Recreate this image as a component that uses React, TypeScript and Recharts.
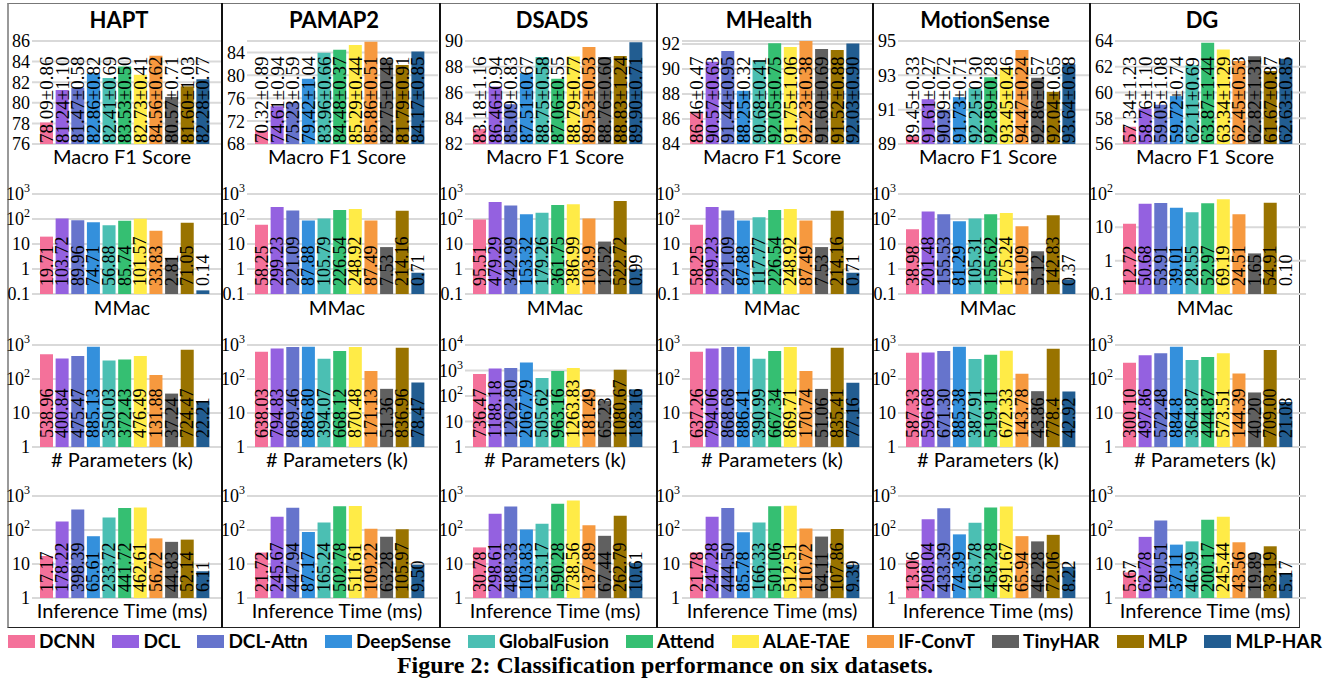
import React from 'react';
import { BarChart, Bar, XAxis, YAxis, CartesianGrid, Cell, LabelList } from 'recharts';

const models = ['DCNN', 'DCL', 'DCL-Attn', 'DeepSense', 'GlobalFusion', 'Attend', 'ALAE-TAE', 'IF-ConvT', 'TinyHAR', 'MLP', 'MLP-HAR'];
const colors = ['#F4719A', '#9461E0', '#6674CC', '#3490DC', '#4BBFB3', '#35BF72', '#FFEB47', '#F6993F', '#606060', '#997300', '#225D91'];
const datasets = ['HAPT', 'PAMAP2', 'DSADS', 'MHealth', 'MotionSense', 'DG'];
const metricNames = ['Macro F1 Score', 'MMac', '# Parameters (k)', 'Inference Time (ms)'];

// Macro F1 (mean, std)
const haptF1 = [78.09, 81.24, 81.47, 82.86, 82.41, 83.53, 82.73, 84.56, 80.57, 81.60, 82.28];
const haptF1Std = [0.86, 1.10, 0.58, 0.82, 0.69, 0.50, 0.41, 0.62, 0.71, 1.03, 0.77];
const pamapF1 = [70.32, 74.61, 75.23, 79.42, 83.96, 84.48, 85.29, 85.86, 82.75, 81.79, 84.17];
const pamapF1Std = [0.89, 0.94, 0.59, 1.04, 0.66, 0.37, 0.44, 0.51, 0.48, 0.91, 0.85];
const dsadsF1 = [83.18, 86.46, 85.09, 87.51, 88.75, 87.06, 88.79, 89.53, 88.76, 88.83, 89.90];
const dsadsF1Std = [1.16, 0.94, 0.83, 0.67, 0.58, 0.55, 0.77, 0.53, 0.60, 1.24, 0.71];
const mhealthF1 = [86.46, 90.57, 91.44, 88.25, 90.68, 92.05, 91.75, 92.23, 91.60, 91.52, 92.03];
const mhealthF1Std = [0.47, 0.63, 0.95, 0.32, 0.41, 0.75, 1.06, 0.38, 0.69, 0.88, 0.90];
const motionF1 = [89.45, 91.61, 90.99, 91.73, 92.25, 92.89, 93.45, 94.47, 92.86, 92.04, 93.64];
const motionF1Std = [0.33, 0.27, 0.72, 0.71, 0.30, 0.28, 0.46, 0.24, 0.57, 0.65, 0.68];
const dgF1 = [57.34, 58.76, 59.05, 59.72, 62.11, 63.87, 63.34, 62.45, 62.82, 61.67, 62.63];
const dgF1Std = [1.23, 1.10, 1.08, 0.74, 0.69, 1.44, 1.29, 0.53, 1.31, 0.87, 0.85];

// MMac
const haptMMac = ['19.71', '103.72', '89.96', '74.71', '56.88', '85.74', '101.57', '33.83', '2.81', '71.05', '0.14'];
const pamapMMac = ['58.25', '299.23', '221.09', '87.88', '105.79', '226.54', '248.92', '87.49', '7.53', '214.16', '0.71'];
const dsadsMMac = ['95.51', '479.29', '342.99', '153.32', '179.26', '361.75', '386.99', '103.9', '12.52', '522.72', '0.99'];
const mhealthMMac = ['58.25', '299.23', '221.09', '87.88', '117.77', '226.54', '248.92', '87.49', '7.53', '214.16', '0.71'];
const motionMMac = ['38.98', '201.48', '155.53', '81.29', '105.31', '155.62', '175.24', '51.09', '5.12', '142.83', '0.37'];
const dgMMac = ['12.72', '50.68', '53.91', '39.01', '28.55', '52.97', '69.19', '24.51', '1.65', '54.91', '0.10'];

// # Parameters (k)
const haptParams = ['538.96', '400.84', '475.47', '885.13', '350.03', '372.43', '476.49', '131.88', '37.24', '724.47', '22.21'];
const pamapParams = ['638.03', '794.83', '869.46', '886.80', '394.07', '668.12', '870.48', '171.13', '51.36', '836.96', '78.47'];
const dsadsParams = ['736.47', '1188.18', '1262.80', '2067.79', '505.62', '963.16', '1263.83', '181.49', '65.23', '1080.67', '183.16'];
const mhealthParams = ['637.26', '794.06', '868.68', '886.41', '390.99', '667.34', '869.71', '170.74', '51.06', '835.41', '77.16'];
const motionParams = ['587.33', '596.68', '671.30', '885.38', '387.91', '519.11', '672.33', '143.78', '43.86', '778.4', '42.92'];
const dgParams = ['300.10', '497.86', '572.48', '884.8', '364.87', '444.87', '573.51', '144.39', '40.20', '709.00', '21.08'];

// Inference time (ms)
const haptTime = ['17.17', '178.22', '398.39', '65.61', '233.72', '441.72', '462.61', '56.72', '44.83', '52.14', '6.11'];
const pamapTime = ['21.72', '245.67', '447.94', '87.17', '165.24', '502.78', '511.61', '109.22', '63.28', '105.97', '9.50'];
const dsadsTime = ['30.78', '298.61', '488.33', '103.83', '153.17', '590.28', '738.56', '137.89', '67.44', '262.79', '10.61'];
const mhealthTime = ['21.78', '247.28', '444.50', '85.78', '166.33', '501.06', '512.51', '110.72', '64.11', '107.86', '9.39'];
const motionTime = ['13.06', '208.04', '433.39', '74.39', '163.78', '458.28', '491.67', '65.94', '46.28', '72.06', '8.22'];
const dgTime = ['5.67', '62.78', '190.51', '37.11', '46.39', '200.17', '245.44', '43.56', '19.89', '33.19', '5.17'];

// y-axis ticks
const f1Ticks = [[76, 78, 80, 82, 84, 86], [68, 72, 76, 80, 84], [82, 84, 86, 88, 90], [84, 86, 88, 90, 92], [89, 91, 93, 95], [56, 58, 60, 62, 64]];
const f1Max = [86, 86, 90, 92, 95, 64];
const mmacTicks = [[0.1, 1, 10, 100, 1000], [0.1, 1, 10, 100, 1000], [0.1, 1, 10, 100, 1000], [0.1, 1, 10, 100, 1000], [0.1, 1, 10, 100, 1000], [0.1, 1, 10, 100]];
const paramTicks = [[1, 10, 100, 1000], [1, 10, 100, 1000], [1, 10, 100, 1000, 10000], [1, 10, 100, 1000], [1, 10, 100, 1000], [1, 10, 100, 1000]];
const timeTicks = [1, 10, 100, 1000];

const f1Mean = [haptF1, pamapF1, dsadsF1, mhealthF1, motionF1, dgF1];
const f1Std = [haptF1Std, pamapF1Std, dsadsF1Std, mhealthF1Std, motionF1Std, dgF1Std];
const mmac = [haptMMac, pamapMMac, dsadsMMac, mhealthMMac, motionMMac, dgMMac];
const params = [haptParams, pamapParams, dsadsParams, mhealthParams, motionParams, dgParams];
const times = [haptTime, pamapTime, dsadsTime, mhealthTime, motionTime, dgTime];

const panelLeft = [7, 222, 440, 657, 873, 1090];
const rowGeo = [
  { top: 41, bottom: 144, labelY: 156, offset: 1, font: 19 },
  { top: 194, bottom: 294, labelY: 307, offset: 8, font: 18 },
  { top: 345, bottom: 447, labelY: 459, offset: 9, font: 18 },
  { top: 496, bottom: 598, labelY: 610, offset: 6, font: 18 },
];
const W = 217;
const SANS = 'Lato, "Open Sans", sans-serif';
const SERIF = '"Liberation Serif", serif';

const LogTick = (props: any) => {
  const { x, y, payload } = props;
  const v = payload.value;
  const exp = Math.round(Math.log10(v));
  return (
    <text x={x} y={y} textAnchor="end" dominantBaseline="central" fontFamily={SERIF} fontSize={18} fill="#000">
      {exp < 2 ? String(v) : <>10<tspan dy={-6} fontSize={12}>{exp}</tspan></>}
    </text>
  );
};

const makeLabel = (offset: number, font: number) => (p: any) => {
  const vb = p.viewBox && p.viewBox.width != null ? p.viewBox : p;
  const cx = Number(vb.x) + Number(vb.width) / 2;
  const by = Number(vb.y) + Number(vb.height) - offset;
  return (
    <text x={cx} y={by} transform={`rotate(-90 ${cx} ${by})`} textAnchor="start" dominantBaseline="central"
      fontFamily={SERIF} fontSize={font} fill="#000">
      {p.value}
    </text>
  );
};

function Panel({ left, row, data, domain, ticks, log }: any) {
  const g = rowGeo[row];
  const pad = 12;
  const mb = 12;
  return (
    <div style={{ position: 'absolute', left, top: g.top - pad }}>
      <BarChart width={W} height={g.bottom - g.top + pad + mb} data={data}
        margin={{ top: pad, right: 1, bottom: mb, left: 0 }}>
        <CartesianGrid vertical={false} stroke="#d9d9d9" strokeWidth={2} />
        <XAxis xAxisId="bars" dataKey="name" hide padding={{ left: 7, right: 12 }} />
        <XAxis xAxisId="labels" dataKey="name" hide padding={{ left: 7, right: 12 }} />
        <YAxis width={25} scale={log ? 'log' : 'linear'} domain={domain} ticks={ticks} interval={0}
          axisLine={false} tickLine={false} tickSize={0} tickMargin={2}
          tick={log ? <LogTick /> : { fontFamily: SERIF, fontSize: 18, fill: '#000' }} />
        <Bar xAxisId="bars" dataKey="v" barSize={13} isAnimationActive={false}>
          {data.map((d: any, i: number) => <Cell key={i} fill={colors[i]} />)}
        </Bar>
        <Bar xAxisId="labels" dataKey="v" barSize={13} fill="transparent" minPointSize={2} isAnimationActive={false}>
          <LabelList dataKey="lbl" content={makeLabel(g.offset, g.font)} />
        </Bar>
      </BarChart>
    </div>
  );
}

export default function App() {
  const panels: any[] = [];
  datasets.forEach((ds, c) => {
    const L = panelLeft[c];
    const f1Data = models.map((m, i) => ({ name: m, v: f1Mean[c][i], lbl: `${f1Mean[c][i].toFixed(2)}±${f1Std[c][i].toFixed(2)}` }));
    const mk = (arr: string[]) => models.map((m, i) => ({ name: m, v: Number(arr[i]), lbl: arr[i] }));
    const t = f1Ticks[c];
    panels.push(<Panel key={`f${c}`} left={L} row={0} data={f1Data} domain={[t[0], f1Max[c]]} ticks={t} log={false} />);
    panels.push(<Panel key={`m${c}`} left={L} row={1} data={mk(mmac[c])} domain={[0.1, mmacTicks[c][mmacTicks[c].length - 1]]} ticks={mmacTicks[c]} log />);
    panels.push(<Panel key={`p${c}`} left={L} row={2} data={mk(params[c])} domain={[1, paramTicks[c][paramTicks[c].length - 1]]} ticks={paramTicks[c]} log />);
    panels.push(<Panel key={`t${c}`} left={L} row={3} data={mk(times[c])} domain={[1, 1000]} ticks={timeTicks} log />);
    panels.push(
      <div key={`h${c}`} style={{ position: 'absolute', left: L + 112 - 100, width: 200, top: 5, textAlign: 'center', fontFamily: SANS, fontWeight: 700, fontSize: 22, lineHeight: '30px' }}>{ds}</div>
    );
    rowGeo.forEach((g, r) => {
      panels.push(
        <div key={`x${c}-${r}`} style={{ position: 'absolute', left: L + 115 - 100, width: 200, top: g.labelY - 13, textAlign: 'center', fontFamily: SANS, fontSize: 20, lineHeight: '26px' }}>{metricNames[r]}</div>
      );
    });
  });

  return (
    <div style={{ position: 'absolute', left: 0, top: 0, width: 1330, height: 681, background: '#fff', overflow: 'hidden' }}>
      <div style={{ position: 'absolute', left: 7, top: 3, width: 1293, height: 625, borderTop: '1px solid #777', borderLeft: '2px solid #999', borderRight: '1.5px solid #333', borderBottom: '1.5px solid #222', boxSizing: 'border-box' }} />
      {panels}
      {panelLeft.slice(1).map((x, i) => (
        <div key={`s${i}`} style={{ position: 'absolute', left: x - 1, top: 3, width: 1.5, height: 625, background: '#111' }} />
      ))}
      <div style={{ position: 'absolute', left: 8, width: 1314, top: 630, height: 22, display: 'flex', justifyContent: 'space-between', alignItems: 'center' }}>
        {models.map((m, i) => (
          <div key={m} style={{ display: 'flex', alignItems: 'center' }}>
            <div style={{ width: 27, height: 13, background: colors[i], marginRight: 4 }} />
            <span style={{ fontFamily: SANS, fontWeight: 700, fontSize: 19, lineHeight: '22px' }}>{m}</span>
          </div>
        ))}
      </div>
      <div style={{ position: 'absolute', left: 0, width: 1330, top: 651, textAlign: 'center', fontFamily: SERIF, fontWeight: 700, fontSize: 24, lineHeight: '28px' }}>
        Figure 2: Classification performance on six datasets.
      </div>
    </div>
  );
}
